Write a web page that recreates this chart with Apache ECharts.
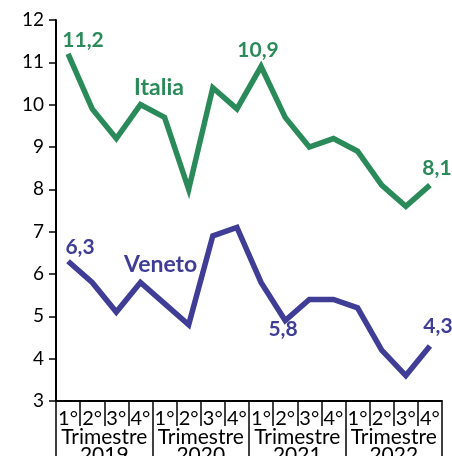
<!DOCTYPE html>
<html>
<head>
<meta charset="utf-8">
<script src="https://cdn.jsdelivr.net/npm/echarts@6/dist/echarts.min.js"></script>
<style>
  html, body { margin: 0; padding: 0; background: #fff; }
  #chart { width: 452px; height: 456px; }
</style>
</head>
<body>
<div id="chart"></div>
<script>
// Quarterly rates, 2019-2022
const quarters = ['1°', '2°', '3°', '4°', '1°', '2°', '3°', '4°', '1°', '2°', '3°', '4°', '1°', '2°', '3°', '4°'];
const years = ['2019', '2020', '2021', '2022'];
const italia = [11.2, 9.9, 9.2, 10.0, 9.7, 8.0, 10.4, 9.9, 10.9, 9.7, 9.0, 9.2, 8.9, 8.1, 7.6, 8.1];
const veneto = [6.3, 5.8, 5.1, 5.8, 5.3, 4.8, 6.9, 7.1, 5.8, 4.9, 5.4, 5.4, 5.2, 4.2, 3.6, 4.3];
const yTicks = [3, 4, 5, 6, 7, 8, 9, 10, 11, 12];

const GREEN = '#2A8A5A';
const BLUE = '#403D97';
const FONT = 'Lato';

// which points carry a value label, and where it sits relative to the point
const italiaLabels = { 0: [15, -14], 8: [-3, -16], 15: [7, -17] };
const venetoLabels = { 0: [12, -14], 8: [22, 47], 15: [8, -20] };

function fmt(v) { return v.toFixed(1).replace('.', ','); }

function buildData(values, labels, color) {
  return values.map((v, i) => {
    const item = { value: v };
    if (labels[i]) {
      item.label = {
        show: true,
        position: 'inside',
        offset: labels[i],
        formatter: () => fmt(v),
        color: color,
        fontFamily: FONT,
        fontWeight: 'bold',
        fontSize: 21
      };
    }
    return item;
  });
}

const chart = echarts.init(document.getElementById('chart'), null, { renderer: 'canvas' });

const axisBlack = { color: '#000', width: 1.5 };

chart.setOption({
  animation: false,
  grid: {
    left: 56, right: 10, top: 20, bottom: 55,
    containLabel: false, outerBoundsMode: 'none'
  },
  xAxis: [
    {
      type: 'category',
      data: quarters,
      boundaryGap: true,
      axisLine: { show: true, lineStyle: { color: '#000', width: 2 } },
      axisTick: { show: true, interval: 0, length: 25, lineStyle: axisBlack },
      axisLabel: {
        interval: 0, margin: 8, color: '#000',
        fontFamily: FONT, fontSize: 20
      }
    },
    {
      type: 'category',
      data: years.map(y => 'Trimestre\n' + y),
      position: 'bottom',
      boundaryGap: true,
      axisLine: { show: false },
      axisTick: { show: true, interval: 0, length: 60, lineStyle: axisBlack },
      axisLabel: {
        interval: 0, margin: 27, color: '#000',
        fontFamily: FONT, fontSize: 21, lineHeight: 18
      }
    }
  ],
  yAxis: {
    type: 'value',
    min: yTicks[0],
    max: yTicks[yTicks.length - 1],
    interval: 1,
    axisLine: { show: true, lineStyle: { color: '#000', width: 2 } },
    axisTick: { show: true, length: 7, lineStyle: axisBlack },
    splitLine: { show: false },
    axisLabel: {
      margin: 12, color: '#000', fontFamily: FONT, fontSize: 19,
      formatter: v => String(v)
    }
  },
  series: [
    {
      name: 'Italia',
      type: 'line',
      xAxisIndex: 0,
      data: buildData(italia, italiaLabels, GREEN),
      showSymbol: true,
      symbol: 'circle',
      symbolSize: 0,
      lineStyle: { color: GREEN, width: 5.5, join: 'miter' },
      itemStyle: { color: GREEN },
      z: 3
    },
    {
      name: 'Veneto',
      type: 'line',
      xAxisIndex: 0,
      data: buildData(veneto, venetoLabels, BLUE),
      showSymbol: true,
      symbol: 'circle',
      symbolSize: 0,
      lineStyle: { color: BLUE, width: 5.5, join: 'miter' },
      itemStyle: { color: BLUE },
      z: 3
    }
  ],
  graphic: [
    {
      type: 'text', left: 134, top: 76,
      style: { text: 'Italia', fill: GREEN, font: 'bold 23px ' + FONT }
    },
    {
      type: 'text', left: 124, top: 253,
      style: { text: 'Veneto', fill: BLUE, font: 'bold 23px ' + FONT }
    }
  ]
});
</script>
</body>
</html>
